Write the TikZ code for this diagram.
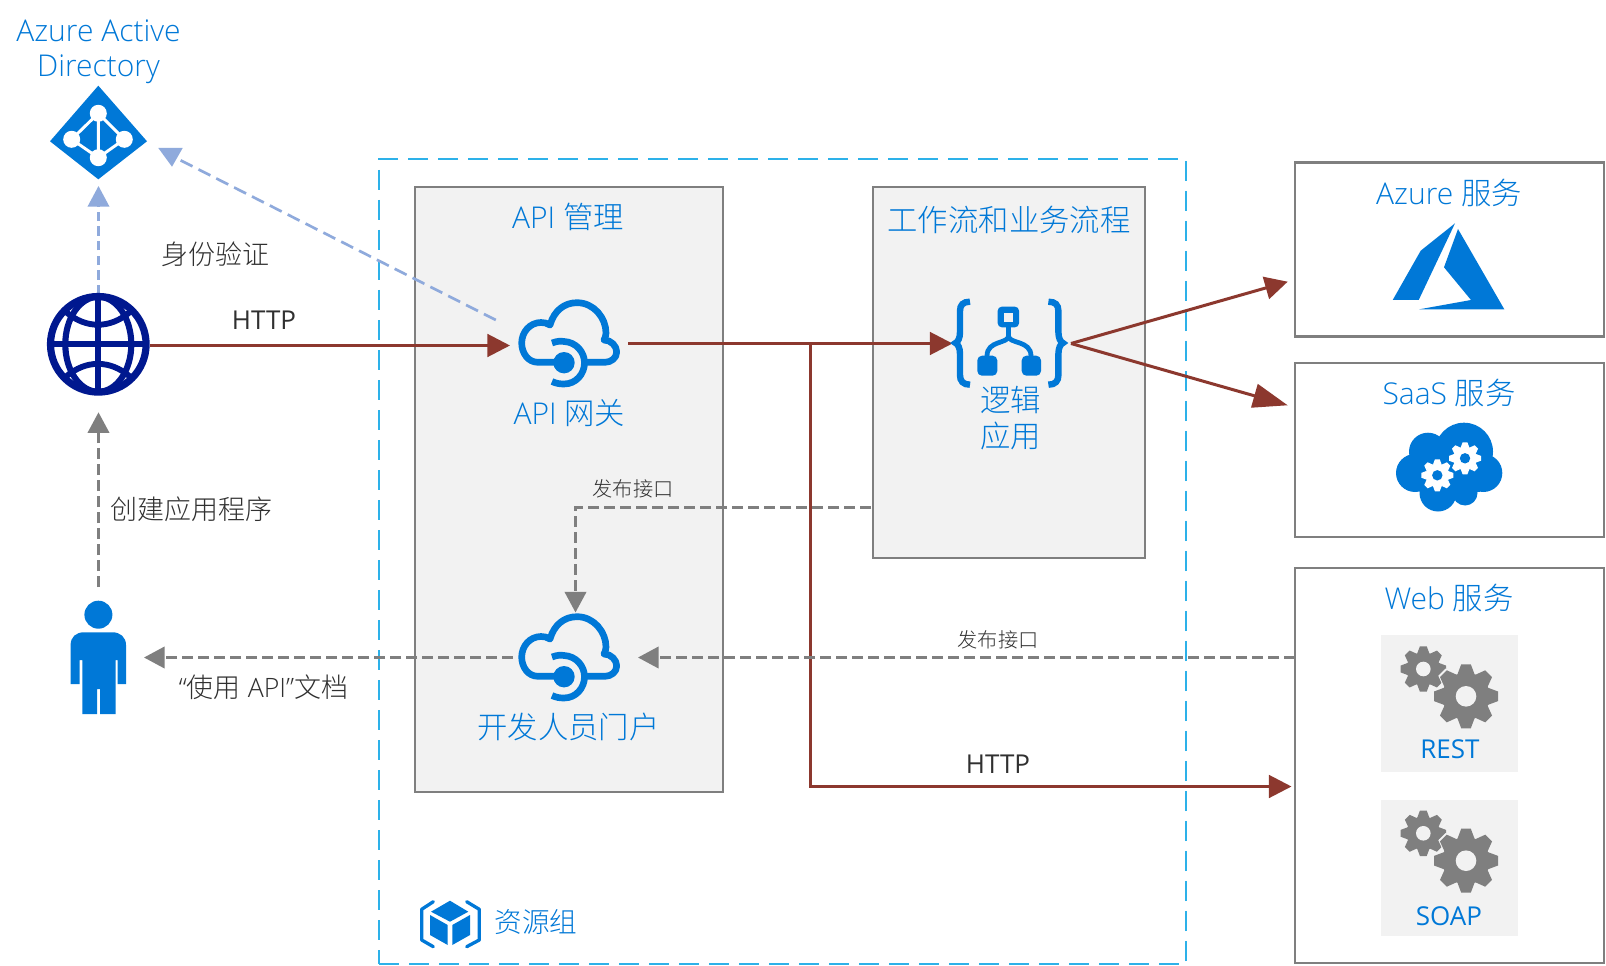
\documentclass[tikz,border=0pt]{standalone}
\usepackage{fontspec}
\setmainfont{Open Sans}[UprightFont=* Light]
\newfontfamily\regfont{Open Sans}
\newfontfamily\cjk{Noto Sans CJK SC}[UprightFont=* Light,Scale=1.012]
\newcommand{\zh}[1]{{\cjk #1}}
\usetikzlibrary{arrows.meta}
\definecolor{azblue}{HTML}{0078D7}
\definecolor{txtdark}{HTML}{303030}
\definecolor{linkred}{HTML}{8C382E}
\definecolor{midgray}{HTML}{7F7F7F}
\definecolor{panelgray}{HTML}{F2F2F2}
\definecolor{softblue}{HTML}{8FAADC}
\definecolor{cyandash}{HTML}{2DB1E9}
\definecolor{navyglobe}{HTML}{00188F}
\tikzset{
  px/.style={x=.75pt,y=-.75pt},
  txtnode/.style={inner sep=0pt,outer sep=0pt,align=center},
  biglbl/.style={txtnode,text=azblue,font=\fontsize{22.5pt}{26.5pt}\selectfont},
  midlbl/.style={txtnode,text=txtdark,font=\fontsize{20pt}{24pt}\selectfont},
  smalllbl/.style={txtnode,text=txtdark,font=\fontsize{15pt}{18pt}\selectfont},
  boxnode/.style={draw=midgray,line width=2.2pt,inner sep=0pt,outer sep=0pt},
  hold/.style={inner sep=0pt,outer sep=0pt},
  redlink/.style={draw=linkred,line width=2.25pt,-{Triangle[length=17pt,width=17pt,fill=linkred]}},
  redplain/.style={draw=linkred,line width=2.25pt},
  graylink/.style={draw=midgray,line width=2.25pt,dash pattern=on 8.25pt off 3.75pt,-{Triangle[length=15.5pt,width=16pt,fill=midgray]}},
  bluelink/.style={draw=softblue,line width=2pt,dash pattern=on 7pt off 4pt,-{Triangle[length=15.5pt,width=16pt,fill=softblue]}},
  bluedash/.style={draw=softblue,line width=2pt,dash pattern=on 10pt off 5pt},
}
% cx cy R hole colour holecolour
\newcommand{\cogicon}[6]{%
  \foreach \ang in {0,45,...,315}{
    \fill[#5,shift={(#1,#2)},rotate=\ang] (-.27*#3,.68*#3) -- (-.15*#3,#3) -- (.15*#3,#3) -- (.27*#3,.68*#3) -- cycle;
  }
  \fill[#5] (#1,#2) circle[radius=.74*#3];
  \fill[#6] (#1,#2) circle[radius=#4];
}
\newcommand{\gatewayshape}{%
  \draw[azblue,line width=5pt,line cap=butt,line join=round]
    (556,362.3) -- (538,362.3) .. controls (528,362.3) and (521.7,353) .. (521.7,343)
    .. controls (521.7,332) and (530,322.5) .. (541,322.5) .. controls (544,322.5) and (547,323) .. (550,325)
    .. controls (554,311) and (564,302.7) .. (577,302.7) .. controls (594,302.7) and (606,318) .. (606,333)
    .. controls (606,336) and (605,338) .. (604,340) .. controls (611,340) and (616.7,346) .. (616.7,352)
    .. controls (616.7,358) and (611,362.3) .. (605,362.3) -- (587,362.3);
  \fill[azblue] (564,362.7) circle[radius=10.7];
  \draw[azblue,line width=5pt]
    (552,343) .. controls (557,341) and (561,341) .. (564,341.5)
    .. controls (576,342) and (584.5,352) .. (584.5,362.7)
    .. controls (584.5,374) and (576,384) .. (564,384)
    .. controls (560,384) and (556,383.5) .. (552,381.5);
}
\begin{document}
\begin{tikzpicture}[px]
\useasboundingbox (0,0) rectangle (1606,966);
\fill[white] (0,0) rectangle (1606,966);

% containers
\node[boxnode,fill=panelgray,minimum width=308*.75pt,minimum height=605*.75pt] (apibox) at (569,489.5) {};
\node[boxnode,fill=panelgray,minimum width=272*.75pt,minimum height=371*.75pt] (flowbox) at (1009,372.5) {};
\node[hold,draw=cyandash,line width=2.1pt,dash pattern=on 15pt off 7.5pt,minimum width=807*.75pt,minimum height=805*.75pt] (rgbox) at (782.5,561.5) {};
\node[boxnode,minimum width=309*.75pt,minimum height=174*.75pt] (azurebox) at (1449.5,249.5) {};
\node[boxnode,minimum width=309*.75pt,minimum height=174*.75pt] (saasbox) at (1449.5,450) {};
\node[boxnode,minimum width=309*.75pt,minimum height=395*.75pt] (webbox) at (1449.5,765.5) {};
\node[hold,fill=panelgray,minimum width=137*.75pt,minimum height=137*.75pt] (restpanel) at (1449.35,703.35) {};
\node[hold,fill=panelgray,minimum width=137*.75pt,minimum height=136*.75pt] (soappanel) at (1449.35,868) {};

% anchors of the icons
\node[hold,minimum width=97*.75pt,minimum height=100*.75pt] (aad) at (98.5,136) {};
\node[hold,circle,minimum size=102*.75pt] (globe) at (98.5,345.5) {};
\node[hold,minimum width=91*.75pt,minimum height=127*.75pt] (person) at (98.5,650.5) {};
\node[hold,minimum width=118*.75pt,minimum height=90*.75pt] (gateway) at (569,343.5) {};
\node[hold,minimum width=125*.75pt,minimum height=90*.75pt] (portal) at (575.5,657.5) {};
\node[hold,minimum width=118.5*.75pt,minimum height=90*.75pt] (logic) at (1011.75,343.5) {};
\coordinate (globelow) at (98.5,412.3);
\coordinate (aadfrom) at (495.8,320);
\coordinate (aadto) at (179,159.5);
\coordinate (pubstart) at (871,507.5);
\coordinate (branch) at (810.5,343.5);
\coordinate (httpend) at (1291.5,786.5);
\coordinate (azureend) at (1287.7,281.7);
\coordinate (saasend) at (1287.7,405.3);

% connectors
\draw[bluelink] (globe.north) -- (aad.south);
\draw[bluedash] (aadfrom) -- (aadto);
\fill[softblue] (158.3,148) -- (182.7,148) -- (172,166.7) -- cycle;
\draw[redlink] (globe.east) -- (globe.east -| gateway.west);
\draw[redlink] (gateway.east) -- (logic.west);
\draw[redlink] (logic.east) -- (azureend);
\draw[redplain,-{Triangle[length=26pt,width=18pt,fill=linkred]}] (logic.east) -- (saasend);
\draw[redlink] (branch) |- (httpend);
\draw[graylink] (person.north) -- (globelow);
\draw[graylink] (portal.west) -- (portal.west -| person.east);
\draw[graylink] (webbox.west |- portal.east) -- (portal.east);
\draw[graylink] (pubstart) -| (portal.north);

% Azure AD
\fill[azblue] (98.3,85.7) -- (147,141.3) -- (98.3,179.3) -- (50,141.3) -- cycle;
\draw[white,line width=2.2pt] (98.3,113.3) -- (71.7,139.3) -- (98.3,157.7) -- (124.3,139.3) -- cycle (98.3,113.3) -- (98.3,157.7);
\fill[white] (98.3,113.3) circle[radius=8.5] (71.7,139.3) circle[radius=8.5] (124.3,139.3) circle[radius=8.5] (98.3,157.7) circle[radius=8.5];

% globe
\begin{scope}
\draw[navyglobe,line width=5.4pt] (98.3,344.3) circle[radius=47.8];
\draw[navyglobe,line width=4.6pt] (98.3,344.3) ellipse[x radius=33,y radius=47.5];
\draw[navyglobe,line width=4.6pt] (98.3,297) -- (98.3,391.6);
\draw[navyglobe,line width=4.6pt] (51,344.3) -- (145.6,344.3);
\draw[navyglobe,line width=4.4pt] (66,312) .. controls (86,329) and (110,329) .. (130,312);
\draw[navyglobe,line width=4.4pt] (66,376.6) .. controls (86,359.6) and (110,359.6) .. (130,376.6);
\end{scope}

% person
\fill[azblue] (98.4,614.7) circle[radius=14];
\fill[azblue] (70.6,684) -- (70.6,645) .. controls (70.6,637) and (76,632.3) .. (84,632.3) -- (112.6,632.3) .. controls (120,632.3) and (126,637) .. (126,645) -- (126,684) -- (117.6,684) -- (117.6,660) -- (115.5,660) -- (115.5,714) -- (100,714) -- (100,689) -- (97,689) -- (97,714) -- (82.4,714) -- (82.4,660) -- (79.6,660) -- (79.6,684) -- cycle;

% cloud icons
\gatewayshape
\begin{scope}[shift={(0,314)}]\gatewayshape\end{scope}

% logic app
\draw[azblue,line width=4.8pt]
  (970,301.7) .. controls (963,301.7) and (960,305) .. (960,311) -- (960,332) .. controls (960,338) and (958,342) .. (955.5,343)
  .. controls (958,344) and (960,348) .. (960,354) -- (960,375) .. controls (960,381) and (963,384.7) .. (970,384.7);
\draw[azblue,line width=4.8pt]
  (1048.4,301.7) .. controls (1055.4,301.7) and (1058.4,305) .. (1058.4,311) -- (1058.4,332) .. controls (1058.4,338) and (1060.4,342) .. (1062.9,343)
  .. controls (1060.4,344) and (1058.4,348) .. (1058.4,354) -- (1058.4,375) .. controls (1058.4,381) and (1055.4,384.7) .. (1048.4,384.7);
\fill[azblue,rounded corners=3pt] (997.7,306.7) rectangle (1019,327.3);
\fill[panelgray] (1004.3,313.3) rectangle (1013,322);
\draw[azblue,line width=3.6pt] (1008.5,327) -- (1008.5,336) .. controls (1008.5,344) and (987,340) .. (987,356);
\draw[azblue,line width=3.6pt] (1008.5,336) .. controls (1008.5,344) and (1031,340) .. (1031,356);
\fill[azblue,rounded corners=3.5pt] (977.3,355.7) rectangle (997.3,375.7);
\fill[azblue,rounded corners=3.5pt] (1021.7,355.7) rectangle (1041,375.7);

% Azure logo
\fill[azblue] (1455,223.3) -- (1420.7,250.7) -- (1392.7,300) -- (1418.7,300) -- cycle;
\fill[azblue] (1458,229) -- (1444,267.3) -- (1471,300) -- (1419.3,309.3) -- (1504.3,309.3) -- cycle;

% SaaS cloud
\fill[azblue] (1464,451.7) circle[radius=29] (1428,451.7) circle[radius=19] (1415,473) circle[radius=19] (1483.3,473) circle[radius=19] (1438,493) circle[radius=18.5] (1465,493) circle[radius=12.5];
\fill[azblue] (1420,455) rectangle (1480,492);
\cogicon{1437.3}{475.3}{16}{5.2}{white}{azblue}
\cogicon{1465}{458.3}{16}{5.2}{white}{azblue}

% grey cogs
\cogicon{1423.3}{669}{22.7}{7.3}{midgray}{panelgray}
\cogicon{1466}{696.3}{34}{0}{panelgray}{panelgray}
\cogicon{1466}{696.3}{32}{10.3}{midgray}{panelgray}
\cogicon{1423.3}{833.3}{22.7}{7.3}{midgray}{panelgray}
\cogicon{1466}{860.7}{34}{0}{panelgray}{panelgray}
\cogicon{1466}{860.7}{32}{10.3}{midgray}{panelgray}

% resource group icon
\fill[azblue] (450,900.7) -- (468.3,911.7) -- (450,921.7) -- (431,911.7) -- cycle;
\fill[azblue] (430,915) -- (447.7,925) -- (447.7,945) -- (430,935) -- cycle;
\fill[azblue] (470,915) -- (452.3,925) -- (452.3,945) -- (470,935) -- cycle;
\draw[azblue,line width=2.5pt,line join=round,line cap=round] (433.3,901.7) -- (421.7,909.3) -- (421.7,940) -- (433.3,946.7);
\draw[azblue,line width=2.5pt,line join=round,line cap=round] (466.7,901.7) -- (479.3,909.3) -- (479.3,940) -- (466.7,946.7);

% labels
\node[biglbl] (aadlabel) at (98.5,52) {Azure Active\\Directory};
\node[biglbl] (apititle) at (568,216.5) {API \zh{管理}};
\node[biglbl] (flowtitle) at (1009,219.5) {\zh{工作流和业务流程}};
\node[biglbl] (gwlabel) at (569.5,413) {API \zh{网关}};
\node[biglbl] (logiclabel) at (1010.5,418) {\zh{逻辑}\\[1pt]\zh{应用}};
\node[biglbl] (portallabel) at (568.5,726.5) {\zh{开发人员门户}};
\node[biglbl] (azuretitle) at (1449,193) {Azure \zh{服务}};
\node[biglbl] (saastitle) at (1449,393) {SaaS \zh{服务}};
\node[biglbl] (webtitle) at (1449,598) {Web \zh{服务}};
\node[biglbl,font=\fontsize{19.5pt}{24pt}\selectfont\regfont] (restlabel) at (1450,749) {REST};
\node[biglbl,font=\fontsize{19.5pt}{24pt}\selectfont\regfont] (soaplabel) at (1449,916) {SOAP};
\node[biglbl,font=\fontsize{20.5pt}{24pt}\selectfont] (rglabel) at (536,922) {\zh{资源组}};
\node[midlbl] (authlabel) at (215.5,254) {\zh{身份验证}};
\node[midlbl,font=\fontsize{19.5pt}{24pt}\selectfont\regfont] (http1) at (264,320) {HTTP};
\node[midlbl,font=\fontsize{19.5pt}{24pt}\selectfont\regfont] (http2) at (998,764) {HTTP};
\node[midlbl] (createlabel) at (191.5,509) {\zh{创建应用程序}};
\node[midlbl] (doclabel) at (263.5,687) {“\zh{使用} API”\zh{文档}};
\node[smalllbl] (pub1) at (633,489) {\zh{发布接口}};
\node[smalllbl] (pub2) at (998,640) {\zh{发布接口}};
\end{tikzpicture}
\end{document}
